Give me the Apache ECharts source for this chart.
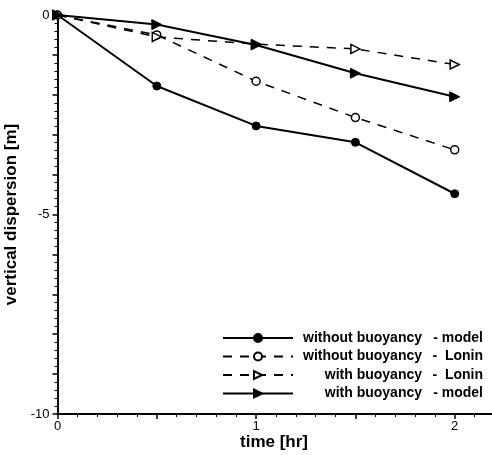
<!DOCTYPE html>
<html>
<head>
<meta charset="utf-8">
<script src="https://cdn.jsdelivr.net/npm/echarts@6/dist/echarts.min.js"></script>
<style>
  html, body { margin: 0; padding: 0; background: #fff; }
  #chart { width: 492px; height: 455px; }
</style>
</head>
<body>
<div id="chart"></div>
<script>
// Sample times (hours)
const timeHr = [0, 0.5, 1, 1.5, 2];

// Vertical dispersion (m) for each case
const withoutBuoyancyModel = [0, -1.78, -2.78, -3.19, -4.48];
const withoutBuoyancyLonin = [0, -0.50, -1.66, -2.57, -3.38];
const withBuoyancyLonin    = [0, -0.55, -0.73, -0.85, -1.24];
const withBuoyancyModel    = [0, -0.24, -0.75, -1.46, -2.05];

// Legend text: case name and source
const legendCase = {
  'without buoyancy - model': ['without buoyancy', '- model'],
  'without buoyancy - Lonin': ['without buoyancy', '-  Lonin'],
  'with buoyancy - Lonin':    ['with buoyancy', '-  Lonin'],
  'with buoyancy - model':    ['with buoyancy', '- model']
};

const FONT = '"Liberation Sans", Arial, Helvetica, sans-serif';

function pairs(values) {
  return timeHr.map((t, i) => [t, values[i]]);
}

function makeSeries(name, values, dashed, symbol, filled, size, rotate) {
  return {
    name: name,
    type: 'line',
    data: pairs(values),
    symbol: symbol,
    symbolSize: size,
    symbolRotate: rotate,
    showAllSymbol: true,
    lineStyle: dashed
      ? { color: '#000', width: 1.5, type: [9, 8] }
      : { color: '#000', width: 2, type: 'solid' },
    itemStyle: filled
      ? { color: '#000', borderColor: '#000', borderWidth: 1 }
      : { color: '#fff', borderColor: '#000', borderWidth: 1.5 },
    emphasis: { disabled: true },
    animation: false
  };
}

// Major ticks every axis interval, minor ticks in between
const majorTick = () => ({ show: true, inside: false, length: 5, lineStyle: { color: '#000', width: 1.5 } });
const minorTick = () => ({ show: true, splitNumber: 5, length: 3, lineStyle: { color: '#000', width: 1 } });

const chart = echarts.init(document.getElementById('chart'), null, { renderer: 'canvas' });

chart.setOption({
  backgroundColor: '#fff',
  animation: false,
  grid: { left: 57.5, right: -62, top: 15, bottom: 41, outerBoundsMode: 'none', containLabel: false },
  xAxis: {
    type: 'value',
    min: 0,
    max: 2.5,
    interval: 0.5,
    axisLine: { show: true, onZero: false, lineStyle: { color: '#000', width: 2 } },
    axisTick: majorTick(),
    minorTick: minorTick(),
    splitLine: { show: false },
    axisLabel: {
      show: true,
      color: '#000', fontFamily: FONT, fontSize: 13, margin: 6,
      formatter: v => (Math.abs(v - Math.round(v)) < 1e-9 ? String(Math.round(v)) : '')
    }
  },
  yAxis: {
    type: 'value',
    min: -10,
    max: 0,
    interval: 1,
    name: 'vertical dispersion [m]',
    nameLocation: 'middle',
    nameGap: 32,
    nameTextStyle: { color: '#000', fontFamily: FONT, fontSize: 17, fontWeight: 'bold' },
    axisLine: { show: true, onZero: false, lineStyle: { color: '#000', width: 2 } },
    axisTick: majorTick(),
    minorTick: minorTick(),
    splitLine: { show: false },
    axisLabel: {
      show: true,
      color: '#000', fontFamily: FONT, fontSize: 13, margin: 8,
      formatter: v => (Math.round(v) % 5 === 0 ? String(Math.round(v)) : '')
    }
  },
  legend: {
    orient: 'vertical',
    left: 217,
    top: 326,
    itemWidth: 70,
    itemHeight: 10,
    itemGap: 4.5,
    selectedMode: false,
    data: Object.keys(legendCase),
    textStyle: {
      color: '#000', fontFamily: FONT, fontSize: 14, fontWeight: 'bold',
      rich: {
        a: { width: 124, align: 'right', color: '#000', fontFamily: FONT, fontSize: 14, fontWeight: 'bold' },
        b: { width: 61, align: 'right', color: '#000', fontFamily: FONT, fontSize: 14, fontWeight: 'bold' }
      }
    },
    formatter: name => '{a|' + legendCase[name][0] + '}{b|' + legendCase[name][1] + '}'
  },
  graphic: [{
    type: 'text',
    left: 240,
    top: 434,
    style: { text: 'time [hr]', fill: '#000', font: 'bold 17px ' + FONT }
  }],
  series: [
    makeSeries('without buoyancy - model', withoutBuoyancyModel, false, 'circle', true, 8, 0),
    makeSeries('without buoyancy - Lonin', withoutBuoyancyLonin, true, 'circle', false, 8, 0),
    makeSeries('with buoyancy - Lonin', withBuoyancyLonin, true, 'triangle', false, 9, -90),
    makeSeries('with buoyancy - model', withBuoyancyModel, false, 'triangle', true, 10, -90)
  ]
});
</script>
</body>
</html>
